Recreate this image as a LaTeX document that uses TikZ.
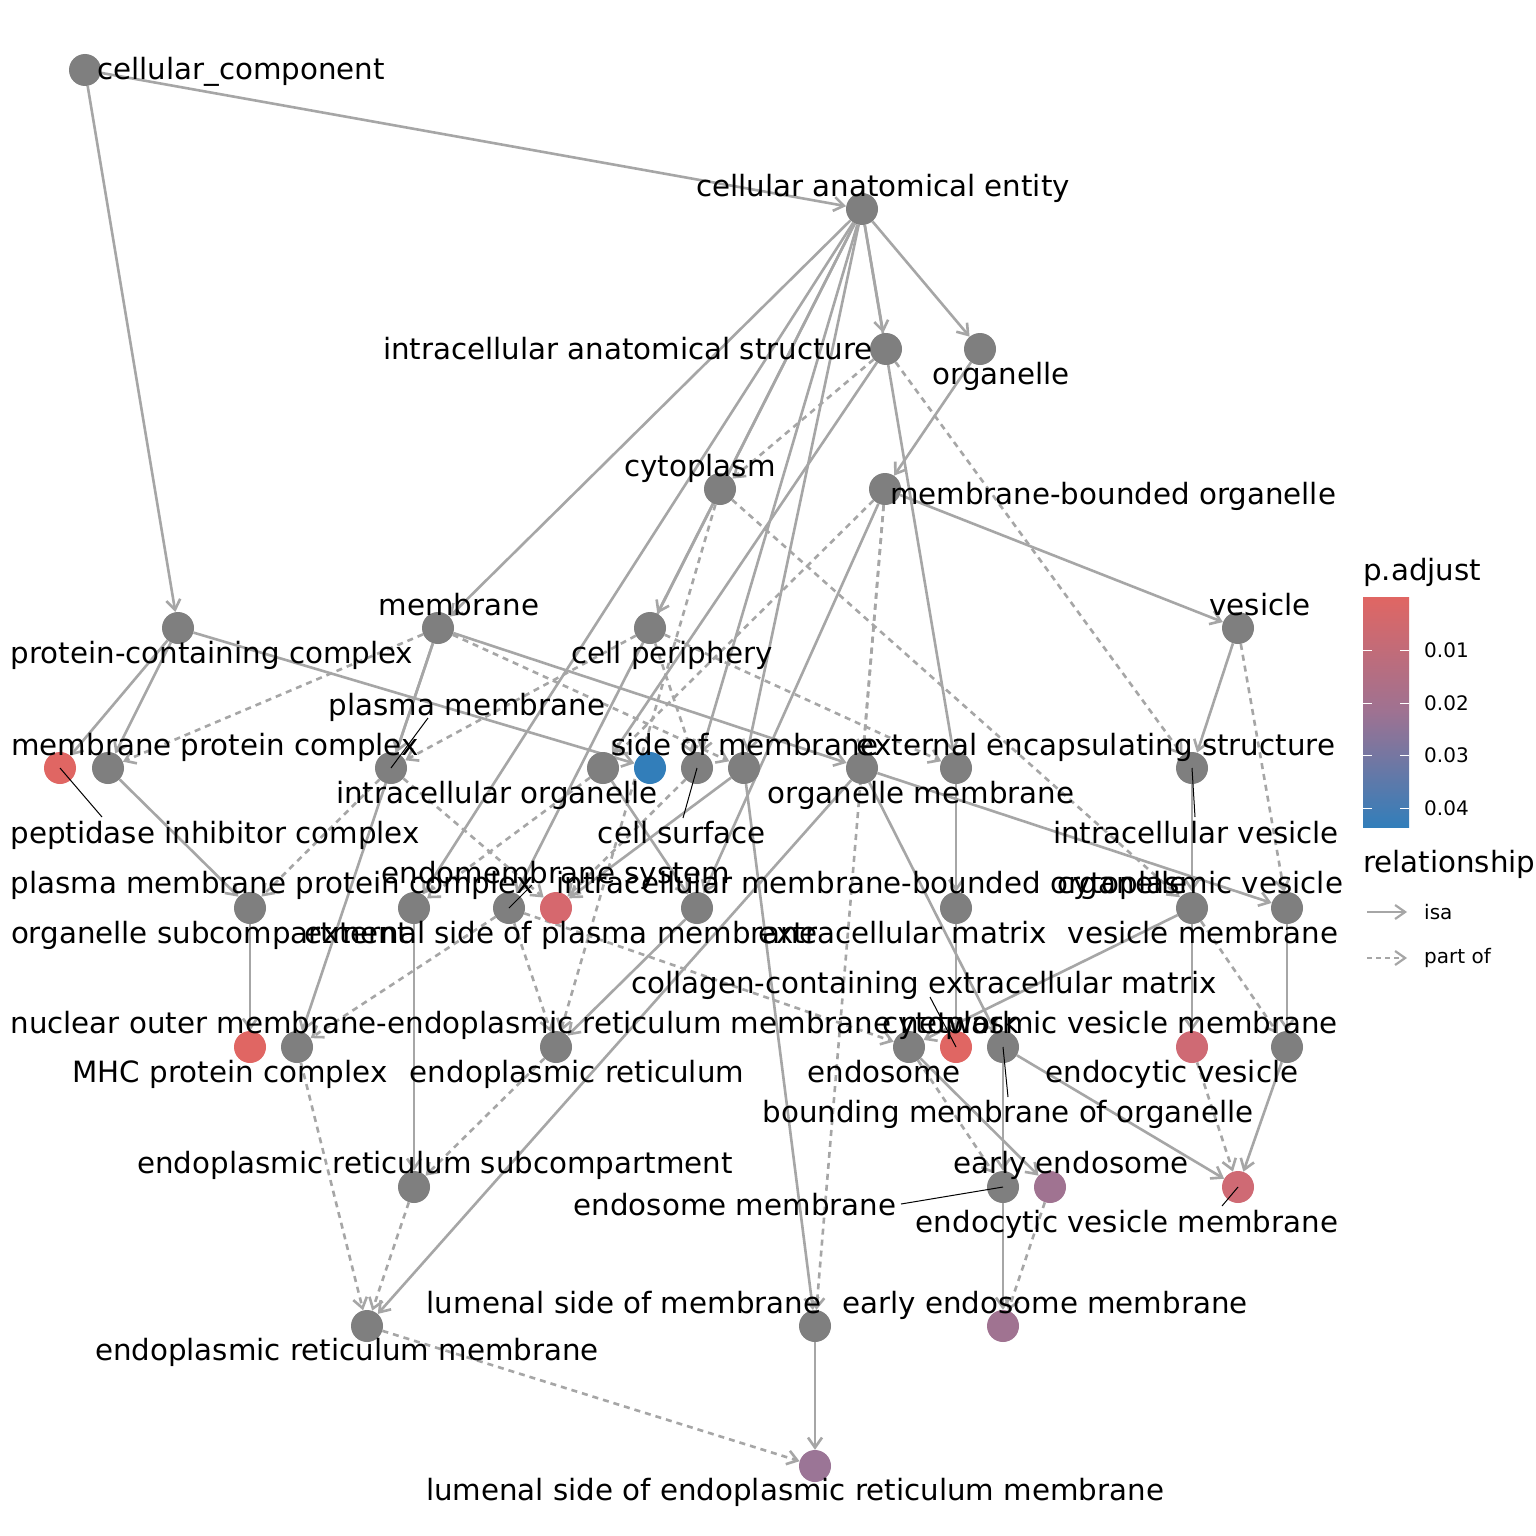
\documentclass[tikz,border=0pt]{standalone}
\usepackage{fontspec}
\setmainfont{DejaVu Sans}
\usetikzlibrary{arrows.meta,backgrounds}
\definecolor{nodegray}{RGB}{127,127,127}
\definecolor{edgecol}{RGB}{166,166,166}
\definecolor{pred}{RGB}{224,102,99}
\definecolor{pred2}{RGB}{214,104,110}
\definecolor{pred3}{RGB}{207,106,116}
\definecolor{ppurp}{RGB}{160,115,145}
\definecolor{ppurp2}{RGB}{155,117,150}
\definecolor{pblue}{RGB}{50,126,186}
\definecolor{pmid}{RGB}{158,114,146}
\begin{document}
\begin{tikzpicture}[x=1pt,y=-1pt,
  gn/.style={circle,minimum size=32pt,inner sep=0pt,fill=nodegray},
  lbl/.style={inner sep=0pt,anchor=base,font=\fontsize{29.3pt}{32pt}\selectfont},
  small/.style={inner sep=0pt,anchor=west,font=\fontsize{20pt}{22pt}\selectfont},
  isa/.style={draw=edgecol,line width=2.6pt,-{Straight Barb[length=10pt,width=14pt]}},
  partof/.style={isa,dash pattern=on 6pt off 5pt},
  leader/.style={draw=black,line width=1pt}]
\useasboundingbox (0,0) rectangle (1536,1536);
% nodes
\node[gn] (CC) at (85,70) {};
\node[gn] (CAE) at (862,209) {};
\node[gn] (IAS) at (886,349) {};
\node[gn] (ORG) at (980,349) {};
\node[gn] (CYT) at (720,489) {};
\node[gn] (MBO) at (885,489) {};
\node[gn] (PCC) at (178,628) {};
\node[gn] (MEM) at (438,628) {};
\node[gn] (CP) at (650,628) {};
\node[gn] (VES) at (1238,628) {};
\node[gn,fill=pred] (PIC) at (60,768) {};
\node[gn] (MPC) at (108,768) {};
\node[gn] (PM) at (391,768) {};
\node[gn] (IO) at (603,768) {};
\node[gn,fill=pblue] (BLU) at (650,768) {};
\node[gn] (CS) at (697,768) {};
\node[gn] (SOM) at (744,768) {};
\node[gn] (OM) at (862,768) {};
\node[gn] (EES) at (956,768) {};
\node[gn] (IV) at (1192,768) {};
\node[gn] (PMPC) at (250,908) {};
\node[gn] (OS) at (414,908) {};
\node[gn] (ES) at (509,908) {};
\node[gn,fill=pred2] (ESPM) at (556,908) {};
\node[gn] (IMBO) at (697,908) {};
\node[gn] (ECM) at (956,908) {};
\node[gn] (CV) at (1192,908) {};
\node[gn] (VM) at (1287,908) {};
\node[gn,fill=pred] (MHC) at (250,1047) {};
\node[gn] (NOMER) at (297,1047) {};
\node[gn] (ER) at (556,1047) {};
\node[gn] (ENDO) at (909,1047) {};
\node[gn,fill=pred] (CCECM) at (956,1047) {};
\node[gn] (BMO) at (1003,1047) {};
\node[gn,fill=pred3] (EV) at (1192,1047) {};
\node[gn] (CVM) at (1287,1047) {};
\node[gn] (ERS) at (414,1187) {};
\node[gn] (EM) at (1003,1187) {};
\node[gn,fill=ppurp] (EE) at (1050,1187) {};
\node[gn,fill=pred3] (EVM) at (1238,1187) {};
\node[gn] (ERM) at (367,1326) {};
\node[gn] (LSM) at (815,1326) {};
\node[gn,fill=ppurp] (EEM) at (1003,1326) {};
\node[gn,fill=ppurp2] (LSERM) at (815,1466) {};
% edges
\begin{scope}[on background layer]
\fill[white] (0,0) rectangle (1536,1536);
\draw[isa] (CC) -- (CAE);
\draw[isa] (CC) -- (PCC);
\draw[isa] (CAE) -- (IAS);
\draw[isa] (CAE) -- (ORG);
\draw[isa] (CAE) -- (MEM);
\draw[isa] (CAE) -- (CP);
\draw[isa] (CAE) -- (OS);
\draw[isa] (CAE) -- (ES);
\draw[isa] (CAE) -- (CS);
\draw[isa] (CAE) -- (SOM);
\draw[isa] (CAE) -- (EES);
\draw[isa] (IAS) -- (IO);
\draw[isa] (ORG) -- (MBO);
\draw[isa] (MBO) -- (VES);
\draw[isa] (MBO) -- (IMBO);
\draw[isa] (PCC) -- (PIC);
\draw[isa] (PCC) -- (MPC);
\draw[isa] (PCC) -- (BLU);
\draw[isa] (MEM) -- (PM);
\draw[isa] (MEM) -- (NOMER);
\draw[isa] (MEM) -- (OM);
\draw[isa] (VES) -- (IV);
\draw[isa] (MPC) -- (PMPC);
\draw[isa] (SOM) -- (ESPM);
\draw[isa] (SOM) -- (LSM);
\draw[isa] (IO) -- (IMBO);
\draw[isa] (EES) -- (ECM);
\draw[isa] (ECM) -- (CCECM);
\draw[isa] (IV) -- (CV);
\draw[isa] (CV) -- (EV);
\draw[isa] (VM) -- (CVM);
\draw[isa] (CV) -- (ENDO);
\draw[isa] (OM) -- (VM);
\draw[isa] (OM) -- (BMO);
\draw[isa] (OM) -- (ERM);
\draw[isa] (IMBO) -- (ER);
\draw[isa] (OS) -- (ERS);
\draw[isa] (LSM) -- (LSERM);
\draw[isa] (ENDO) -- (EE);
\draw[isa] (BMO) -- (EM);
\draw[isa] (BMO) -- (EVM);
\draw[isa] (CVM) -- (EVM);
\draw[isa] (EM) -- (EEM);
\draw[isa] (PMPC) -- (MHC);
\draw[partof] (IAS) -- (CYT);
\draw[partof] (IAS) -- (IV);
\draw[partof] (MBO) -- (OM);
\draw[partof] (MBO) -- (IO);
\draw[partof] (MBO) -- (LSM);
\draw[partof] (MEM) -- (MPC);
\draw[partof] (MEM) -- (SOM);
\draw[partof] (CP) -- (PM);
\draw[partof] (CP) -- (CS);
\draw[partof] (CP) -- (EES);
\draw[partof] (VES) -- (VM);
\draw[partof] (PM) -- (PMPC);
\draw[partof] (PM) -- (ESPM);
\draw[partof] (CS) -- (ESPM);
\draw[partof] (IO) -- (OS);
\draw[partof] (CYT) -- (CV);
\draw[partof] (CV) -- (CVM);
\draw[partof] (ES) -- (ENDO);
\draw[partof] (ES) -- (NOMER);
\draw[partof] (ES) -- (ER);
\draw[partof] (CYT) -- (ER);
\draw[partof] (ER) -- (ERS);
\draw[partof] (NOMER) -- (ERM);
\draw[partof] (ERS) -- (ERM);
\draw[partof] (ERM) -- (LSERM);
\draw[partof] (ENDO) -- (EM);
\draw[partof] (EV) -- (EVM);
\draw[partof] (EE) -- (EEM);
\end{scope}
% leader lines
\coordinate (lPM) at (428,718);
\coordinate (lPIC) at (102,817);
\coordinate (lCS) at (683,818);
\coordinate (lIV) at (1195,817);
\coordinate (lES) at (532,885);
\coordinate (lCCECM) at (930,997);
\coordinate (lBMO) at (1008,1097);
\coordinate (lEM) at (901,1204);
\coordinate (lEVM) at (1222,1206);
\draw[leader] (PM.center) -- (lPM);
\draw[leader] (PIC.center) -- (lPIC);
\draw[leader] (CS.center) -- (lCS);
\draw[leader] (IV.center) -- (lIV);
\draw[leader] (ES.center) -- (lES);
\draw[leader] (CCECM.center) -- (lCCECM);
\draw[leader] (BMO.center) -- (lBMO);
\draw[leader] (EM.center) -- (lEM);
\draw[leader] (EVM.center) -- (lEVM);
% labels
\node[lbl] (tCC) at (241,80) {cellular\_component};
\node[lbl] (tCAE) at (883,196) {cellular anatomical entity};
\node[lbl] (tIAS) at (628,359) {intracellular anatomical structure};
\node[lbl] (tORG) at (1001,384) {organelle};
\node[lbl] (tCYT) at (700,476) {cytoplasm};
\node[lbl] (tMBO) at (1113,504) {membrane-bounded organelle};
\node[lbl] (tPCC) at (212,663) {protein-containing complex};
\node[lbl] (tMEM) at (459,615) {membrane};
\node[lbl] (tCP) at (672,663) {cell periphery};
\node[lbl] (tVES) at (1260,615) {vesicle};
\node[lbl] (tPM) at (467,715) {plasma membrane};
\node[lbl] (tMPC) at (215,755) {membrane protein complex};
\node[lbl] (tSOM) at (745,755) {side of membrane};
\node[lbl] (tEES) at (1096,755) {external encapsulating structure};
\node[lbl] (tIO) at (497,803) {intracellular organelle};
\node[lbl] (tOM) at (921,803) {organelle membrane};
\node[lbl] (tPIC) at (215,843) {peptidase inhibitor complex};
\node[lbl] (tCS) at (682,843) {cell surface};
\node[lbl] (tIV) at (1196,843) {intracellular vesicle};
\node[lbl] (tES) at (556,883) {endomembrane system};
\node[lbl] (tPMPC) at (272,893) {plasma membrane protein complex};
\node[lbl] (tIMBO) at (872,893) {intracellular membrane-bounded organelle};
\node[lbl] (tCV) at (1200,893) {cytoplasmic vesicle};
\node[lbl] (tOS) at (210,943) {organelle subcompartment};
\node[lbl] (tESPM) at (561,943) {external side of plasma membrane};
\node[lbl] (tECM) at (903,943) {extracellular matrix};
\node[lbl] (tVM) at (1203,943) {vesicle membrane};
\node[lbl] (tCCECM) at (924,993) {collagen-containing extracellular matrix};
\node[lbl] (tNOMER) at (515,1033) {nuclear outer membrane-endoplasmic reticulum membrane network};
\node[lbl] (tCVM) at (1110,1033) {cytoplasmic vesicle membrane};
\node[lbl] (tMHC) at (230,1082) {MHC protein complex};
\node[lbl] (tER) at (577,1082) {endoplasmic reticulum};
\node[lbl] (tENDO) at (884,1082) {endosome};
\node[lbl] (tEV) at (1172,1082) {endocytic vesicle};
\node[lbl] (tBMO) at (1008,1122) {bounding membrane of organelle};
\node[lbl] (tERS) at (435,1173) {endoplasmic reticulum subcompartment};
\node[lbl] (tEE) at (1071,1173) {early endosome};
\node[lbl] (tEM) at (735,1215) {endosome membrane};
\node[lbl] (tEVM) at (1127,1232) {endocytic vesicle membrane};
\node[lbl] (tLSM) at (624,1313) {lumenal side of membrane};
\node[lbl] (tEEM) at (1045,1313) {early endosome membrane};
\node[lbl] (tERM) at (347,1360) {endoplasmic reticulum membrane};
\node[lbl] (tLSERM) at (795,1500) {lumenal side of endoplasmic reticulum membrane};
% legend
\node[lbl,anchor=base west] (tpadj) at (1363,580) {p.adjust};
\shade[top color=pred, bottom color=pblue, middle color=pmid] (1363,597) rectangle (1409,827);
\foreach \yy/\tt in {650/0.01,703/0.02,755/0.03,808/0.04}{
  \draw[white,line width=1pt] (1363,\yy) -- (1372,\yy);
  \draw[white,line width=1pt] (1400,\yy) -- (1409,\yy);
  \node[small] at (1424,\yy) {\tt};
}
\node[lbl,anchor=base west] (trel) at (1363,872) {relationship};
\coordinate (ka1) at (1367,912);
\coordinate (ka2) at (1407,912);
\coordinate (kb1) at (1367,958);
\coordinate (kb2) at (1407,958);
\draw[isa,line width=2.2pt] (ka1) -- (ka2);
\draw[partof,line width=2.2pt,dash pattern=on 5pt off 4pt] (kb1) -- (kb2);
\node[small] (tisa) at (1424,912) {isa};
\node[small] (tpart) at (1424,958) {part of};
\end{tikzpicture}
\end{document}
